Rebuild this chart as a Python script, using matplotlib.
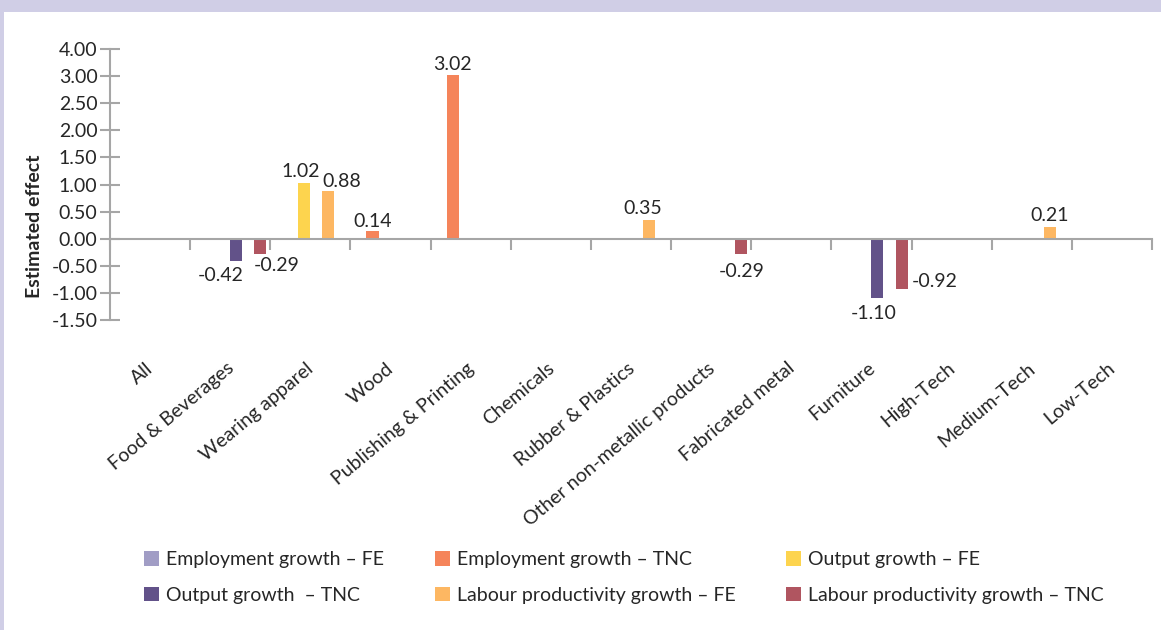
import numpy as np
import matplotlib
matplotlib.use("Agg")
import matplotlib.pyplot as plt
from matplotlib.patches import Rectangle

nan = np.nan
categories = ["All", "Food & Beverages", "Wearing apparel", "Wood", "Publishing & Printing",
              "Chemicals", "Rubber & Plastics", "Other non-metallic products", "Fabricated metal",
              "Furniture", "High-Tech", "Medium-Tech", "Low-Tech"]
series_names = ["Employment growth \u2013 FE", "Employment growth \u2013 TNC", "Output growth \u2013 FE",
                "Output growth  \u2013 TNC", "Labour productivity growth \u2013 FE",
                "Labour productivity growth \u2013 TNC"]
emp_fe = [nan] * 13
emp_tnc = [nan, nan, nan, 0.14, 3.02, nan, nan, nan, nan, nan, nan, nan, nan]
out_fe = [nan, nan, 1.02, nan, nan, nan, nan, nan, nan, nan, nan, nan, nan]
out_tnc = [nan, -0.42, nan, nan, nan, nan, nan, nan, nan, -1.10, nan, nan, nan]
lp_fe = [nan, nan, 0.88, nan, nan, nan, 0.35, nan, nan, nan, nan, 0.21, nan]
lp_tnc = [nan, -0.29, nan, nan, nan, nan, nan, -0.29, nan, -0.92, nan, nan, nan]
ytick_vals = [-1.5, -1.0, -0.5, 0.0, 0.5, 1.0, 1.5, 2.0, 2.5, 3.0, 3.5]
ytick_labels = ["-1.50", "-1.00", "-0.50", "0.00", "0.50", "1.00", "1.50", "2.00", "2.50", "3.00", "4.00"]

series = [emp_fe, emp_tnc, out_fe, out_tnc, lp_fe, lp_tnc]
colors = ["#A19DC5", "#F5845A", "#FDD44E", "#625289", "#FDB762", "#B05560"]

# label offsets in pixels (dx, dy) relative to bar end, keyed by (category idx, series idx)
label_offsets = {(1, 3): (-16, -14), (1, 5): (16, -11), (2, 2): (-4, 12), (2, 4): (13, 10),
                 (3, 1): (0, 10), (4, 1): (0, 11), (6, 4): (-6, 11), (7, 5): (0, -17),
                 (9, 3): (-4, -15), (9, 5): (33, 7), (11, 4): (0, 12)}

plt.rcParams["font.family"] = ["Lato", "DejaVu Sans"]
text_color = "#262626"
axis_color = "#A6A6A6"
FS = 14

W, H = 1161, 630
fig = plt.figure(figsize=(W / 100, H / 100), dpi=100)
fig.patches.append(Rectangle((0, 1 - 12 / H), 1, 12 / H, transform=fig.transFigure,
                             facecolor="#D0CEE6", edgecolor="none", zorder=0))
fig.patches.append(Rectangle((0, 0), 4 / W, 1, transform=fig.transFigure,
                             facecolor="#D0CEE6", edgecolor="none", zorder=0))

ax = fig.add_axes([110 / W, 1 - 320 / H, (1152 - 110) / W, (320 - 49) / H])
x = np.arange(len(categories))
bw = 0.15
for si, (vals, col) in enumerate(zip(series, colors)):
    pos = x + (si - 2.5) * bw
    ax.bar(pos, vals, width=bw, color=col, label=series_names[si], zorder=2, linewidth=0)
    for ci, v in enumerate(vals):
        if not np.isnan(v):
            dx, dy = label_offsets.get((ci, si), (0, 10 if v >= 0 else -12))
            ax.annotate(f"{v:.2f}", (pos[ci], v), xytext=(dx, dy), textcoords="offset pixels",
                        ha="center", va="center", fontsize=FS, color=text_color)

ax.set_xlim(-0.5, len(categories) - 0.5)
ax.set_ylim(-1.5, 3.5)
for s in ["top", "right"]:
    ax.spines[s].set_visible(False)
ax.spines["bottom"].set_position(("data", 0))
ax.spines["bottom"].set_color(axis_color)
ax.spines["left"].set_color(axis_color)
ax.spines["bottom"].set_linewidth(1.5)
ax.spines["left"].set_linewidth(1.5)
ax.set_yticks(ytick_vals)
ax.set_yticklabels(ytick_labels)
ax.set_xticks(np.arange(len(categories) + 1) - 0.5)
ax.set_xticklabels([])
ax.tick_params(axis="x", length=8, width=1.5, color=axis_color, direction="out")
ax.tick_params(axis="y", length=14, width=1.5, color=axis_color, direction="inout",
               labelsize=FS, labelcolor=text_color, pad=2)
ax.set_ylabel("Estimated effect", fontsize=FS, fontweight="bold", color=text_color)
ax.yaxis.set_label_coords((43 - 110) / (1152 - 110), (320 - 226) / (320 - 49))

for ci, name in enumerate(categories):
    ax.annotate(name, (ci, -1.5), xytext=(1, -46), textcoords="offset pixels",
                rotation=40, rotation_mode="anchor", ha="right", va="center",
                fontsize=FS, color=text_color)

handles, labels = ax.get_legend_handles_labels()
order = [0, 3, 1, 4, 2, 5]
leg = fig.legend([handles[i] for i in order], [labels[i] for i in order], ncol=3,
                 loc="upper left", bbox_to_anchor=(144 / W, 1 - 551 / H), frameon=False,
                 fontsize=FS, handlelength=0.78, handleheight=0.78, handletextpad=0.36,
                 columnspacing=2.6, labelspacing=0.95, borderpad=0, borderaxespad=0)
for t in leg.get_texts():
    t.set_color(text_color)

fig.savefig("out.png", dpi=100)
